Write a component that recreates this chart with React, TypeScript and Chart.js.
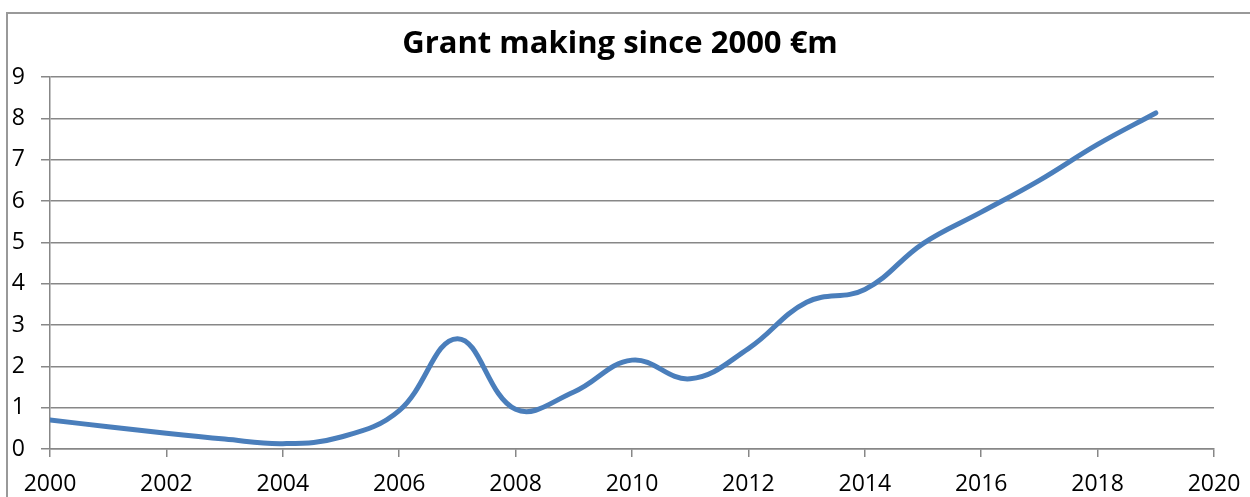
import React, { useEffect, useRef } from "react";
import { Chart, registerables } from "chart.js";

Chart.register(...registerables);

const years = [2000, 2001, 2002, 2003, 2004, 2005, 2006, 2007, 2008, 2009, 2010, 2011, 2012, 2013, 2014, 2015, 2016, 2017, 2018, 2019];
const grants = [0.70, 0.54, 0.38, 0.24, 0.13, 0.29, 0.93, 2.67, 0.96, 1.38, 2.15, 1.70, 2.43, 3.55, 3.86, 4.97, 5.73, 6.50, 7.37, 8.13];
const titleText = "Grant making since 2000 €m";

const GRID = "#878787";

const titlePlugin = {
  id: "customTitle",
  afterDraw(chart: any) {
    const ctx = chart.ctx;
    ctx.save();
    ctx.font = "bold 31px 'Open Sans'";
    ctx.fillStyle = "#000";
    ctx.textAlign = "center";
    ctx.textBaseline = "alphabetic";
    ctx.fillText(titleText, 620, 53);
    ctx.restore();
  },
};

export default function App() {
  const ref = useRef<HTMLCanvasElement>(null);
  useEffect(() => {
    if (!ref.current) return;
    const chart = new Chart(ref.current, {
      type: "line",
      data: {
        datasets: [
          {
            data: years.map((y, i) => ({ x: y, y: grants[i] })),
            borderColor: "#4a7ebb",
            borderWidth: 5,
            pointRadius: 0,
            tension: 0.4,
            fill: false,
            borderCapStyle: "round",
          },
        ],
      },
      options: {
        animation: false,
        responsive: false,
        maintainAspectRatio: false,
        layout: { padding: { left: 0, right: 36, top: 77, bottom: 0 } },
        plugins: {
          legend: { display: false },
          tooltip: { enabled: false },
          title: { display: false },
        },
        scales: {
          x: {
            type: "linear",
            min: 2000,
            max: 2020,
            afterFit: (s: any) => { s.height = 48; s.paddingLeft = 0; s.paddingRight = 0; },
            ticks: {
              stepSize: 2,
              color: "#000",
              padding: 14,
              maxRotation: 0,
              font: { family: "'Open Sans'", size: 23 },
              callback: (v: any) => String(v),
            },
            grid: { drawOnChartArea: false, drawTicks: true, tickLength: 8, color: GRID, lineWidth: 1.5 },
            border: { color: GRID, width: 1.5 },
          },
          y: {
            min: 0,
            max: 9,
            afterFit: (s: any) => { s.width = 50; s.paddingTop = 0; s.paddingBottom = 0; },
            ticks: {
              stepSize: 1,
              color: "#000",
              padding: 16,
              font: { family: "'Open Sans'", size: 23 },
            },
            grid: { drawTicks: true, tickLength: 9, color: GRID, lineWidth: 1.5 },
            border: { color: GRID, width: 1.5 },
          },
        },
      },
      plugins: [titlePlugin],
    });
    return () => chart.destroy();
  }, []);
  return (
    <div style={{ position: "fixed", left: 0, top: 0, width: 1250, height: 497, overflow: "hidden", background: "#fff" }}>
      <div style={{ position: "absolute", left: 6, top: 12, width: 1400, height: 700, border: "2px solid #999" }} />
      <canvas ref={ref} width={1250} height={497} style={{ position: "absolute", left: 0, top: 0 }} />
    </div>
  );
}
